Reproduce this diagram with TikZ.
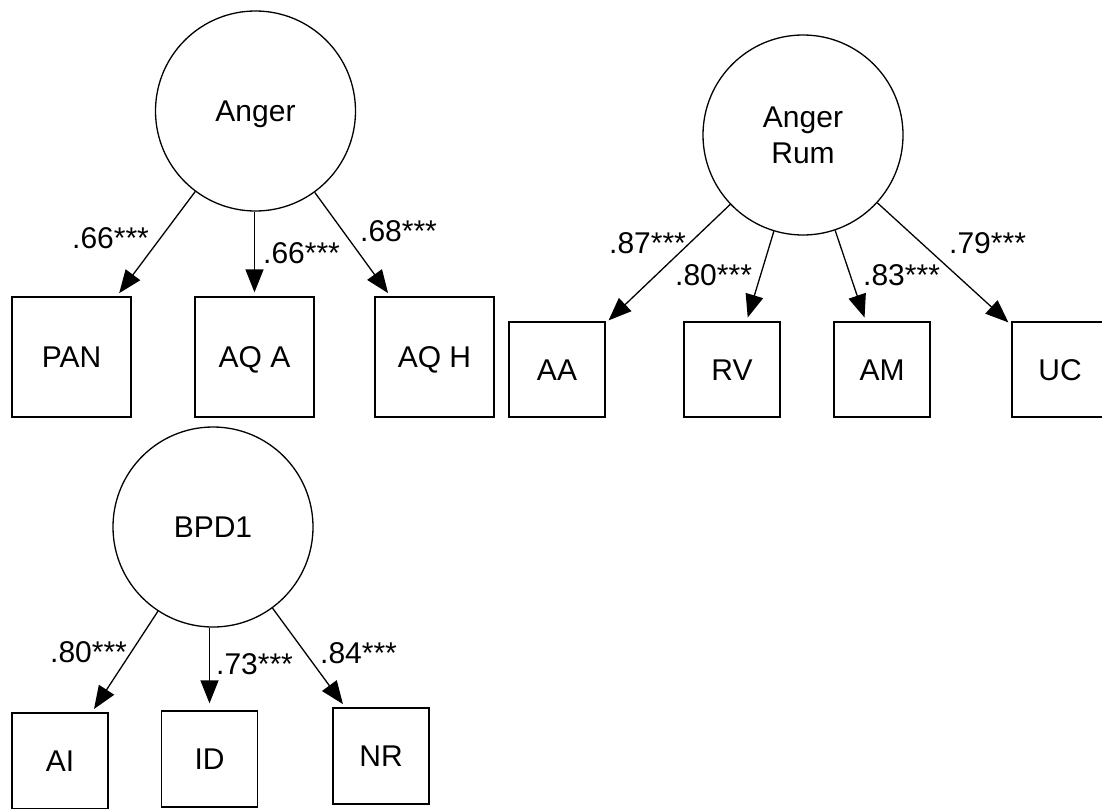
\documentclass[tikz,border=0pt]{standalone}
\usepackage{fontspec}
\setmainfont{Liberation Sans}
\usetikzlibrary{arrows.meta}
\begin{document}
\begin{tikzpicture}[x=1pt,y=-1pt,
  latent/.style={circle,draw,line width=1.3pt,minimum size=200pt,inner sep=0pt,
    font=\fontsize{30}{36}\selectfont,align=center},
  capc/.style={text height=21.5pt,text depth=0pt},
  obsA/.style={rectangle,draw,line width=1.3pt,minimum width=119pt,minimum height=120pt,
    inner sep=0pt,font=\fontsize{30}{36}\selectfont,capc},
  obsB/.style={obsA,minimum width=96pt,minimum height=95pt},
  obsC/.style={obsA,minimum width=96pt,minimum height=96pt},
  load/.style={line width=1.3pt,-{Triangle[length=23pt,width=18pt]},shorten >=4pt},
  coef/.style={anchor=base west,inner sep=0pt,font=\fontsize{30}{36}\selectfont}]
\useasboundingbox (0,0) rectangle (1102,808);
% latent variables
\node[latent,capc] (anger) at (255.5,111) {Anger};
\node[latent] (rum) at (803,135) {Anger\\Rum};
\node[latent,capc] (bpd) at (213,527) {BPD1};
% indicators
\node[obsA] (pan) at (71.5,357) {PAN};
\node[obsA] (aqa) at (254.5,357) {AQ A};
\node[obsA] (aqh) at (434.5,357) {AQ H};
\node[obsB] (aa) at (557,369.5) {AA};
\node[obsB] (rv) at (732,369.5) {RV};
\node[obsB] (am) at (882,369.5) {AM};
\node[obsB] (uc) at (1060,369.5) {UC};
\node[obsC] (ai) at (60,761) {AI};
\node[obsC] (id) at (209.5,759) {ID};
\node[obsC] (nr) at (381,756) {NR};
% loadings
\draw[load] (anger) -- (pan);
\draw[load] (anger.south -| aqa.north) -- (aqa.north);
\draw[load] (anger) -- (aqh);
\draw[load] (rum) -- (aa);
\draw[load] (rum) -- (rv);
\draw[load] (rum) -- (am);
\draw[load] (rum) -- (uc);
\draw[load] (bpd) -- (ai);
\draw[load,shorten >=7pt] (bpd.south -| id.north) -- (id.north);
\draw[load] (bpd) -- (nr);
% coefficients
\node[coef] (c1) at (72,248) {.66***};
\node[coef] (c2) at (263,263) {.66***};
\node[coef] (c3) at (360,241) {.68***};
\node[coef] (c4) at (609,253) {.87***};
\node[coef] (c5) at (675,285) {.80***};
\node[coef] (c6) at (863,285) {.83***};
\node[coef] (c7) at (949,253) {.79***};
\node[coef] (c8) at (50,662) {.80***};
\node[coef] (c9) at (216,674) {.73***};
\node[coef] (c10) at (320,663) {.84***};
\end{tikzpicture}
\end{document}
